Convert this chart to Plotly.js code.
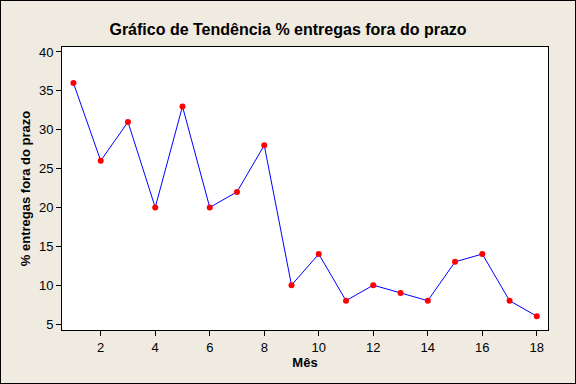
<!DOCTYPE html>
<html>
<head>
<meta charset="utf-8">
<script src="https://cdn.plot.ly/plotly-3.0.1.min.js"></script>
<style>
html,body{margin:0;padding:0;background:#EFEBE1;}
#wrap{position:relative;width:576px;height:384px;}
#chart{width:576px;height:384px;}
#frame{position:absolute;left:0;top:0;width:576px;height:384px;box-sizing:border-box;border:1px solid #000;pointer-events:none;}
</style>
</head>
<body>
<div id="wrap"><div id="chart"></div><div id="frame"></div></div>
<script>
const meses = [1,2,3,4,5,6,7,8,9,10,11,12,13,14,15,16,17,18];
const percentual = [36,26,31,20,33,20,22,28,10,14,8,10,9,8,13,14,8,6];
const xTicks = [2,4,6,8,10,12,14,16,18];
const yTicks = [5,10,15,20,25,30,35,40];

const fontFam = '"Liberation Sans", Arial, sans-serif';

Plotly.newPlot('chart', [{
  x: meses, y: percentual, type: 'scatter', mode: 'lines+markers',
  line: {color: '#0000FF', width: 1},
  marker: {color: '#FF0000', size: 6}
}], {
  width: 576, height: 384,
  paper_bgcolor: '#EFEBE1', plot_bgcolor: '#FFFFFF',
  margin: {l: 62, r: 28, t: 47, b: 54},
  showlegend: false,
  title: {text: '<b>Gráfico de Tendência % entregas fora do prazo</b>', x: 0.5, xref: 'container', y: 1, yref: 'container', yanchor: 'top', pad: {t: 24},
          font: {family: fontFam, size: 16, color: '#000'}},
  xaxis: {range: [0.58, 18.41], tickvals: xTicks, ticks: 'outside', ticklen: 5, tickwidth: 1, tickcolor: '#000',
          showgrid: false, zeroline: false, showline: true, linecolor: '#000', linewidth: 1, mirror: true,
          tickfont: {family: fontFam, size: 13, color: '#000'},
          title: {text: '<b>Mês</b>', font: {family: fontFam, size: 13, color: '#000'}, standoff: 0}},
  yaxis: {range: [4.23, 40.64], tickvals: yTicks, ticks: 'outside', ticklen: 5, tickwidth: 1, tickcolor: '#000',
          showgrid: false, zeroline: false, showline: true, linecolor: '#000', linewidth: 1, mirror: true,
          tickfont: {family: fontFam, size: 13, color: '#000'},
          title: {text: '<b>% entregas fora do prazo</b>', font: {family: fontFam, size: 13, color: '#000'}, standoff: 5}}
}, {displayModeBar: false, staticPlot: true});
</script>
</body>
</html>
